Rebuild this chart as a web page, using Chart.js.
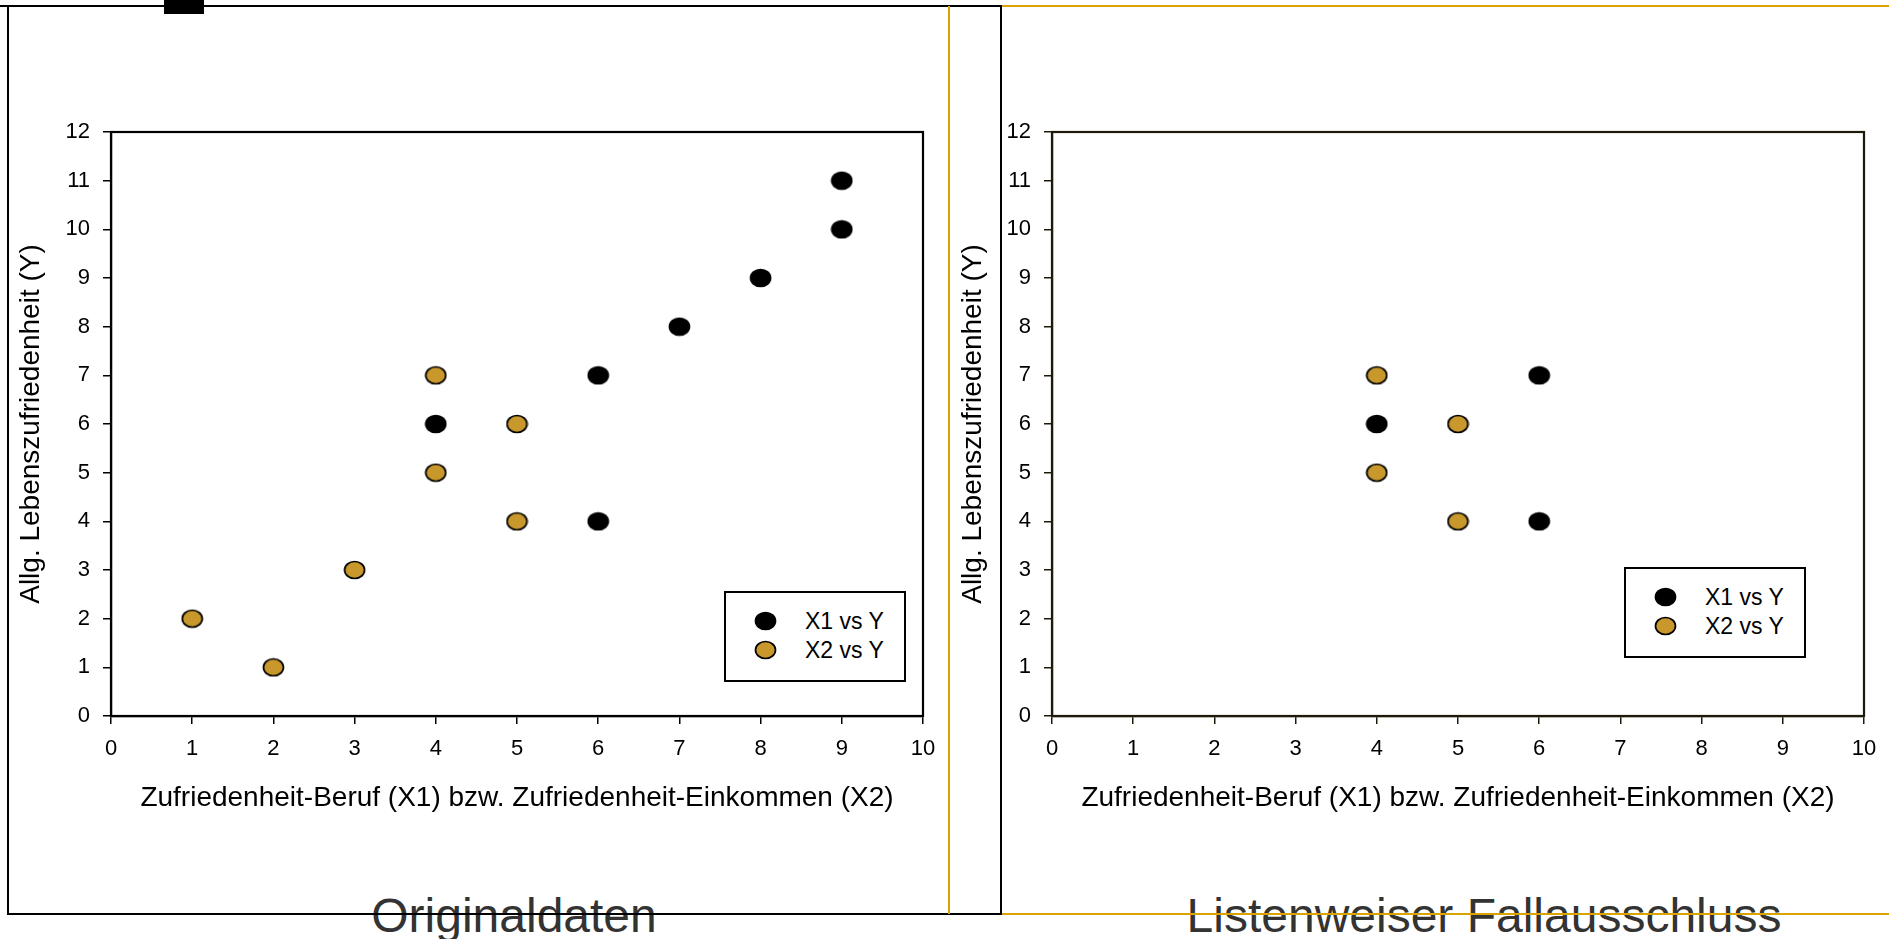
<!DOCTYPE html>
<html lang="de">
<head>
<meta charset="utf-8">
<title>Originaldaten / Listenweiser Fallausschluss</title>
<script src="https://cdn.jsdelivr.net/npm/chart.js@4.4.1/dist/chart.umd.min.js"></script>
<style>
  html, body { margin: 0; padding: 0; background: #fff; }
  body {
    width: 1889px; height: 939px; position: relative; overflow: hidden;
    font-family: "Liberation Sans", Arial, sans-serif;
  }
  canvas { position: absolute; top: 0; }
  .line { position: absolute; z-index: 6; }
  .legend {
    position: absolute; width: 182px; height: 91px; box-sizing: border-box;
    border: 2px solid #000; background: #fff; z-index: 3;
  }
  .legend img { position: absolute; }
  .legend span { position: absolute; font-size: 23px; line-height: 26px; color: #000; white-space: nowrap; }
  .panel-title {
    position: absolute; top: 892px; font-size: 48px; line-height: 48px; color: #333;
    white-space: nowrap; transform: translateX(-50%); z-index: 4;
  }
</style>
</head>
<body>

<canvas id="chartOrig" width="1001" height="815" style="left:0"></canvas>
<canvas id="chartListwise" width="939" height="815" style="left:950px"></canvas>

<!-- Rahmen der Folie -->
<div class="line" style="left:0;top:5px;width:1002px;height:2px;background:#000"></div>
<div class="line" style="left:7px;top:6px;width:2px;height:909px;background:#000"></div>
<div class="line" style="left:7px;top:913px;width:995px;height:2px;background:#000"></div>
<div class="line" style="left:1000px;top:6px;width:2px;height:909px;background:#000"></div>
<div class="line" style="left:164px;top:0;width:40px;height:14px;background:#000"></div>
<div class="line" style="left:948px;top:6px;width:2px;height:908px;background:#d9a300"></div>
<div class="line" style="left:1002px;top:5px;width:887px;height:2px;background:#d9a300"></div>
<div class="line" style="left:1002px;top:913px;width:887px;height:2px;background:#d9a300"></div>

<div class="panel-title" style="left:514px">Originaldaten</div>
<div class="panel-title" style="left:1484px">Listenweiser Fallausschluss</div>

<div class="legend" id="legendOrig" style="left:724px;top:591px"></div>
<div class="legend" id="legendListwise" style="left:1624px;top:567px"></div>

<script>
// Achsen
const X_TICKS = [0, 1, 2, 3, 4, 5, 6, 7, 8, 9, 10];
const Y_TICKS = [0, 1, 2, 3, 4, 5, 6, 7, 8, 9, 10, 11, 12];
const X_TITLE = 'Zufriedenheit-Beruf (X1) bzw. Zufriedenheit-Einkommen (X2)';
const Y_TITLE = 'Allg. Lebenszufriedenheit (Y)';
const SERIES_NAMES = ['X1 vs Y', 'X2 vs Y'];

// Originaldaten
const ORIG_X1 = [4, 6, 6, 7, 8, 9, 9];
const ORIG_Y1 = [6, 7, 4, 8, 9, 10, 11];
const ORIG_X2 = [1, 2, 3, 4, 4, 5, 5];
const ORIG_Y2 = [2, 1, 3, 7, 5, 6, 4];

// Listenweiser Fallausschluss
const LW_X1 = [4, 6, 6];
const LW_Y1 = [6, 7, 4];
const LW_X2 = [4, 4, 5, 5];
const LW_Y2 = [7, 5, 6, 4];

const COLORS = {
  black: '#000000',
  gold: '#c9982c',
  frameDark: '#1e1a0a',
};
const FONT = '"Liberation Sans", Arial, sans-serif';

// leicht ovale Marker wie im Original
function makeMarker(fill) {
  const c = document.createElement('canvas');
  c.width = 23;
  c.height = 20;
  const g = c.getContext('2d');
  g.beginPath();
  g.ellipse(11.5, 10, 10, 8.5, 0, 0, Math.PI * 2);
  g.fillStyle = fill;
  g.fill();
  g.lineWidth = 1.7;
  g.strokeStyle = '#000';
  g.stroke();
  return c;
}
const MARKERS = [makeMarker(COLORS.black), makeMarker(COLORS.gold)];

// Rahmen um die Plotfläche (oben/rechts)
const plotFrame = {
  id: 'plotFrame',
  beforeDatasetsDraw(chart, args, opts) {
    const { ctx, chartArea: a } = chart;
    ctx.save();
    ctx.strokeStyle = opts.color || '#000';
    ctx.lineWidth = 2.2;
    ctx.strokeRect(a.left, a.top, a.right - a.left, a.bottom - a.top);
    ctx.restore();
  },
};

const toPoints = (xs, ys) => xs.map((x, i) => ({ x, y: ys[i] }));

function scatterPanel(canvasId, cfg) {
  const ctx = document.getElementById(canvasId).getContext('2d');
  const axisStyle = {
    type: 'linear',
    grid: { drawOnChartArea: false, drawTicks: true, tickLength: 8, color: cfg.frame, lineWidth: 1.5 },
    border: { display: true, color: cfg.frame, width: 2.2 },
  };
  return new Chart(ctx, {
    type: 'scatter',
    data: {
      datasets: [
        { label: SERIES_NAMES[0], data: toPoints(cfg.x1, cfg.y1), pointStyle: MARKERS[0], order: 2 },
        { label: SERIES_NAMES[1], data: toPoints(cfg.x2, cfg.y2), pointStyle: MARKERS[1], order: 1 },
      ],
    },
    options: {
      responsive: false,
      animation: false,
      devicePixelRatio: 1,
      layout: { padding: cfg.padding },
      plugins: {
        legend: { display: false },
        tooltip: { enabled: false },
        plotFrame: { color: cfg.frame },
      },
      scales: {
        x: {
          ...axisStyle,
          min: 0,
          max: 10,
          afterBuildTicks: s => { s.ticks = X_TICKS.map(v => ({ value: v })); },
          afterFit: s => { s.height = cfg.xAxisHeight; },
          ticks: { color: '#000', padding: 12, maxRotation: 0, font: { family: FONT, size: 22 } },
          title: { display: true, text: X_TITLE, color: '#000', padding: 0, font: { family: FONT, size: 28 } },
        },
        y: {
          ...axisStyle,
          min: 0,
          max: 12,
          afterBuildTicks: s => { s.ticks = Y_TICKS.map(v => ({ value: v })); },
          afterFit: s => { s.width = cfg.yAxisWidth; },
          ticks: { color: '#000', padding: 13, font: { family: FONT, size: 22 } },
          title: { display: true, text: Y_TITLE, color: '#000', padding: 0, font: { family: FONT, size: 28 } },
        },
      },
    },
    plugins: [plotFrame],
  });
}

function buildLegend(id) {
  const box = document.getElementById(id);
  const rowCenters = [30, 59];
  SERIES_NAMES.forEach((name, i) => {
    const img = document.createElement('img');
    img.src = MARKERS[i].toDataURL();
    img.style.left = (41 - 11.5 - 2) + 'px';
    img.style.top = (rowCenters[i] - 10 - 2) + 'px';
    box.appendChild(img);
    const span = document.createElement('span');
    span.textContent = name;
    span.style.left = (81 - 2) + 'px';
    span.style.top = (rowCenters[i] - 13 - 2) + 'px';
    box.appendChild(span);
  });
}

scatterPanel('chartOrig', {
  x1: ORIG_X1, y1: ORIG_Y1, x2: ORIG_X2, y2: ORIG_Y2,
  frame: COLORS.black,
  padding: { left: 14, top: 132, right: 78, bottom: 0 },
  yAxisWidth: 97,
  xAxisHeight: 99,
});

scatterPanel('chartListwise', {
  x1: LW_X1, y1: LW_Y1, x2: LW_X2, y2: LW_Y2,
  frame: COLORS.frameDark,
  padding: { left: 6, top: 132, right: 25, bottom: 0 },
  yAxisWidth: 96,
  xAxisHeight: 99,
});

buildLegend('legendOrig');
buildLegend('legendListwise');
</script>
</body>
</html>
